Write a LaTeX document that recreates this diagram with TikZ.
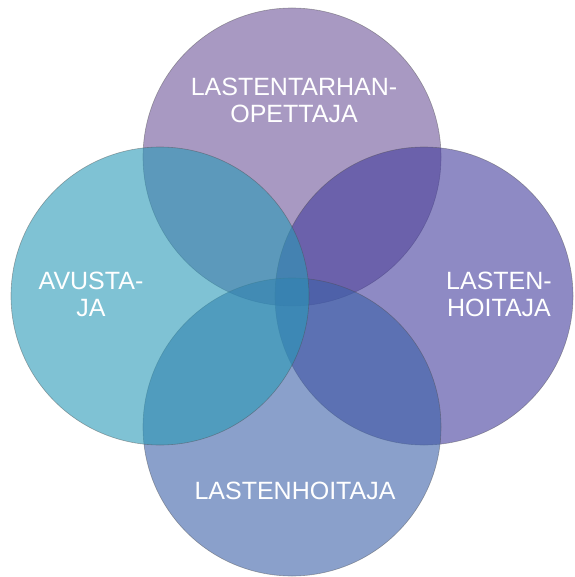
\documentclass[tikz,border=0pt]{standalone}
\usepackage{fontspec}
\setmainfont{Liberation Sans}
\usetikzlibrary{positioning}
\definecolor{vnlilac}{RGB}{110,85,153}
\definecolor{vnviolet}{RGB}{67,60,157}
\definecolor{vnblue}{RGB}{60,97,168}
\definecolor{vnteal}{RGB}{42,153,183}

\begin{document}
\begin{tikzpicture}[x=1pt, y=-1pt,
  ring/.style={circle, minimum size=298pt, inner sep=0pt,
               fill opacity=0.6, draw=black!70, draw opacity=0.45,
               line width=0.6pt},
  caption/.style={text=white, align=center,
                  font=\fontsize{25}{27}\selectfont},
]
  \useasboundingbox (0,0) rectangle (574,577);

  % Four overlapping circles, back to front.
  \node[ring, fill=vnlilac] (kto) at (292,157) {};
  \node[ring, fill=vnviolet] (lho) at (424,296) {};
  \node[ring, fill=vnblue] (lh) at (292,427) {};
  \node[ring, fill=vnteal] (av) at (160,296) {};

  % Labels, set toward the outer side of each circle.
  \node[caption] (ktotext) at (294,100) {LASTENTARHAN-\\OPETTAJA};
  \node[caption] (lhotext) at (499,294) {LASTEN-\\HOITAJA};
  \node[caption] (lhtext) at (295,491) {LASTENHOITAJA};
  \node[caption] (avtext) at (91,294) {AVUSTA-\\JA};
\end{tikzpicture}
\end{document}
